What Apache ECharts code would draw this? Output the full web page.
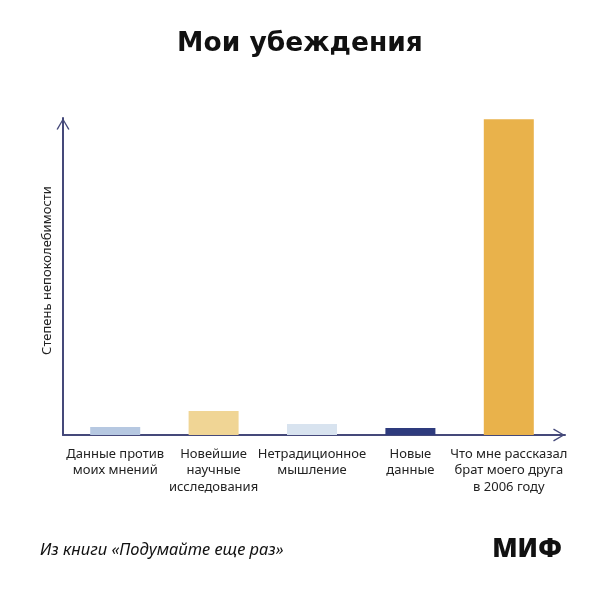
<!DOCTYPE html>
<html>
<head>
<meta charset="utf-8">
<script src="https://cdn.jsdelivr.net/npm/echarts@6/dist/echarts.min.js"></script>
<style>html,body{margin:0;padding:0;background:#fff}#c{width:600px;height:600px}</style>
</head>
<body>
<div id="c"></div>
<script>
var categories = [
  'Данные против\nмоих мнений',
  'Новейшие\nнаучные\nисследования',
  'Нетрадиционное\nмышление',
  'Новые\nданные',
  'Что мне рассказал\nбрат моего друга\nв 2006 году'
];
var values = [2.5, 7.6, 3.5, 2.2, 99.6];
var barColors = ['#b6c8e1', '#f0d595', '#d8e3ef', '#2e3b7d', '#e9b24b'];
var titleText = 'Мои убеждения';
var yAxisName = 'Степень непоколебимости';
var sourceText = 'Из книги «Подумайте еще раз»';
var brandText = 'МИФ';

var axisColor = '#45497a';
var chevron = 'path://M0,11 L6.5,0 L13,11 L11.7,11.7 L6.5,2.4 L1.3,11.7 Z';
var chart = echarts.init(document.getElementById('c'), null, {renderer: 'canvas'});
chart.setOption({
  backgroundColor: '#ffffff',
  animation: false,
  title: [
    {text: titleText, left: 'center', top: 26,
     textStyle: {fontFamily: 'DejaVu Sans', fontWeight: 'bold', fontSize: 26.5, color: '#111111'}},
    {text: sourceText, left: 35, top: 537,
     textStyle: {fontFamily: 'Noto Sans', fontStyle: 'italic', fontWeight: 'normal', fontSize: 16.5, color: '#111111'}},
    {text: brandText, right: 33, top: 532,
     textStyle: {fontFamily: 'Noto Sans', fontWeight: 900, fontSize: 26, color: '#111111'}}
  ],
  grid: [
    {left: 63, right: 35, top: 118, bottom: 165},
    {left: 66, right: 42, top: 118, bottom: 165}
  ],
  xAxis: [
    {type: 'value', gridIndex: 0, min: 0, max: 1,
     axisLine: {show: true, onZero: false, lineStyle: {color: axisColor, width: 2},
                symbol: ['none', chevron], symbolSize: [13, 12], symbolOffset: [0, -6]},
     axisTick: {show: false}, axisLabel: {show: false}, splitLine: {show: false}},
    {type: 'category', gridIndex: 1, data: categories,
     axisLine: {show: false}, axisTick: {show: false}, splitLine: {show: false},
     axisLabel: {interval: 0, margin: 11, fontFamily: 'Noto Sans', fontSize: 13, lineHeight: 16.5,
                 color: '#222222', align: 'center', verticalAlign: 'top'}}
  ],
  yAxis: [
    {type: 'value', gridIndex: 0, min: 0, max: 1,
     axisLine: {show: true, onZero: false, lineStyle: {color: axisColor, width: 2},
                symbol: ['none', chevron], symbolSize: [13, 12], symbolOffset: [0, -6]},
     axisTick: {show: false}, axisLabel: {show: false}, splitLine: {show: false},
     name: yAxisName, nameLocation: 'middle', nameRotate: 90, nameGap: 9,
     nameTextStyle: {fontFamily: 'Noto Sans', fontSize: 13, color: '#222222', padding: [0, 0, 0, 12]}},
    {type: 'value', gridIndex: 1, min: 0, max: 100, show: false}
  ],
  series: [{
    type: 'bar', xAxisIndex: 1, yAxisIndex: 1,
    barWidth: 50,
    data: values.map(function (v, i) { return {value: v, itemStyle: {color: barColors[i]}}; })
  }]
});
</script>
</body>
</html>
